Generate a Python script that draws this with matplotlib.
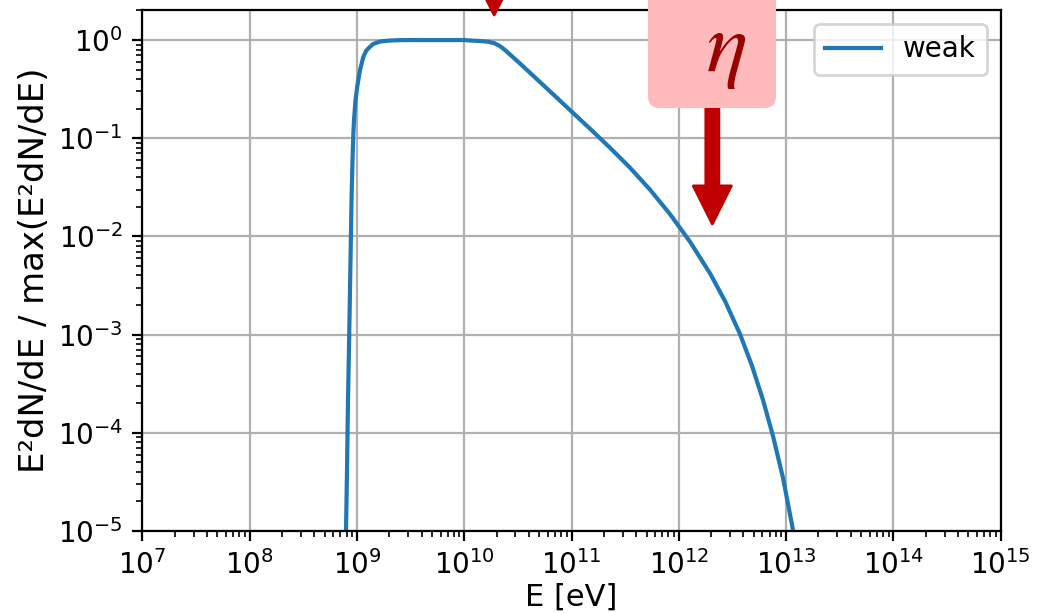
import numpy as np
import matplotlib.pyplot as plt
from matplotlib.patches import FancyBboxPatch, FancyArrowPatch
from matplotlib.transforms import Affine2D

#---datos (log10 values)-----------------------------------------------
log_E = [8.8956, 8.8975, 8.9068, 8.9161, 8.9282, 8.9394, 8.9487, 8.9581, 8.9655, 8.9720,
         8.9860, 9.0028, 9.0280, 9.0587, 9.0839, 9.1053, 9.1491, 9.2144, 9.3075, 9.4008,
         9.6, 9.8, 10.0, 10.0531, 10.1463, 10.2208, 10.2768, 10.3233, 10.3513, 10.3793,
         10.5191, 10.7055, 10.8453, 10.9944, 11.1715, 11.3579, 11.5443, 11.7307, 11.9171,
         12.1035, 12.2899, 12.4297, 12.5694, 12.6813, 12.7838, 12.8770, 12.9702, 13.0634,
         13.0820]
log_Y = [-5.30, -5.000, -4.379, -3.666, -2.953, -2.240, -1.629, -1.222, -0.967, -0.815,
         -0.611, -0.468, -0.305, -0.173, -0.112, -0.085, -0.041, -0.015, -0.005, -0.001,
         0.0, 0.0, 0.0, -0.005, -0.010, -0.017, -0.031, -0.056, -0.077, -0.102,
         -0.239, -0.428, -0.570, -0.723, -0.903, -1.097, -1.300, -1.524, -1.773,
         -2.054, -2.376, -2.658, -2.994, -3.318, -3.665, -4.032, -4.459, -4.989,
         -5.102]

E = 10**np.array(log_E)
Y = 10**np.array(log_Y)

# annotation positions
E_arrow1, Y_arrow1 = 1.9e10, 1.8
E_arrow2, Y_arrow2_tail, Y_arrow2_tip = 2.05e12, 0.245, 0.0134

W, H, DPI = 1055, 613, 200

#---figura------------------------------------------------------------
fig = plt.figure(figsize=(W/DPI, H/DPI), dpi=DPI)
ax = fig.add_axes([0.1350, 0.1338, 0.8136, 0.8491])

ax.plot(E, Y, color='C0', label='weak')
ax.set_xscale('log')
ax.set_yscale('log')
ax.set_xlim(1e7, 1e15)
ax.set_ylim(1e-5, 2)
ax.set_xticks([10.0**k for k in range(7, 16)])
ax.grid(True)
ax.set_xlabel('E [eV]', fontsize=11, labelpad=0.8)
ax.set_ylabel('E²dN/dE / max(E²dN/dE)', fontsize=12.2, labelpad=2.5)
ax.legend(loc='upper right')

#---flechas-----------------------------------------------------------
style = 'simple,head_length=13.7,head_width=13.7,tail_width=4.7'
a1 = FancyArrowPatch((E_arrow1, 20), (E_arrow1, Y_arrow1), arrowstyle=style,
                     mutation_scale=1, color='#C00000', shrinkA=0, shrinkB=0,
                     clip_on=False, zorder=5)
ax.add_patch(a1)
a2 = FancyArrowPatch((E_arrow2, Y_arrow2_tail), (E_arrow2, Y_arrow2_tip), arrowstyle=style,
                     mutation_scale=1, color='#C00000', shrinkA=0, shrinkB=0,
                     clip_on=False, zorder=5)
ax.add_patch(a2)

# pink label box, in image pixel coordinates
pix = Affine2D().scale(1/W, -1/H).translate(0, 1) + fig.transFigure
box = FancyBboxPatch((648, -30), 128, 138, boxstyle='round,pad=0,rounding_size=12',
                     facecolor='#FFBBBB', edgecolor='none', transform=pix, zorder=10)
fig.add_artist(box)
fig.text(726, 71, r'$\eta$', transform=pix, ha='center', va='baseline',
         fontsize=31, color='#990000', math_fontfamily='stix', zorder=11)

plt.savefig('out.png', dpi=DPI)
